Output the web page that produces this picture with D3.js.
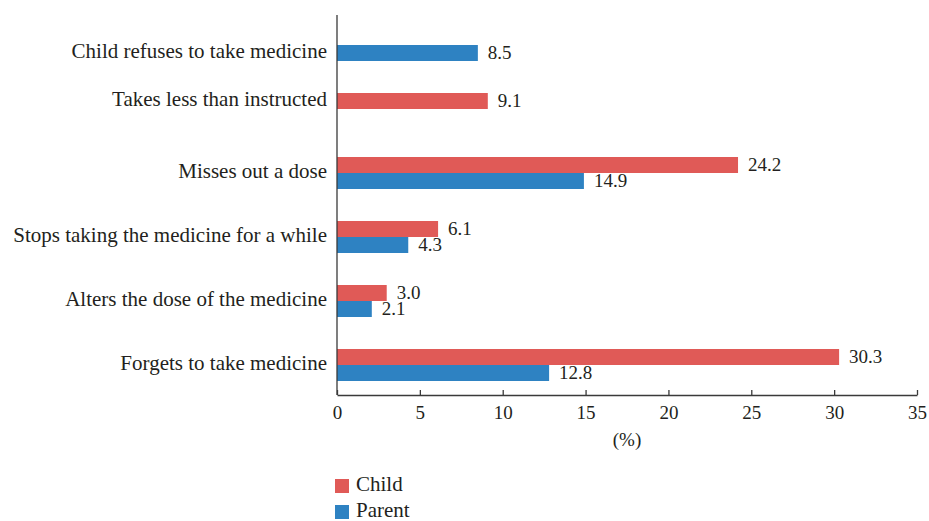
<!DOCTYPE html>
<html>
<head>
<meta charset="utf-8">
<script src="https://cdn.jsdelivr.net/npm/d3@7"></script>
<style>
  body { margin: 0; background: #fff; }
  svg text { font-family: "Liberation Serif", "DejaVu Serif", serif !important; fill: #231f20; }
</style>
</head>
<body>
<div id="chart"></div>
<script>
// Data (top to bottom), null = not asked of that group
const categories = [
  'Child refuses to take medicine',
  'Takes less than instructed',
  'Misses out a dose',
  'Stops taking the medicine for a while',
  'Alters the dose of the medicine',
  'Forgets to take medicine'
];
const childValues  = [null, 9.1, 24.2, 6.1, 3.0, 30.3];
const parentValues = [8.5, null, 14.9, 4.3, 2.1, 12.8];
const seriesNames = ['Child', 'Parent'];
const xTicks = [0, 5, 10, 15, 20, 25, 30, 35];

const colors = { Child: '#e05a57', Parent: '#2e82c2', text: '#231f20', axis: '#3a3a3a' };
const serif = '"Liberation Serif", "DejaVu Serif", serif';

const width = 929, height = 521;
const margin = { left: 337 };
const plotRight = 917;
const axisY = 395;

const svg = d3.select('#chart').append('svg')
  .attr('width', width)
  .attr('height', height);

// Scales
const x = d3.scaleLinear().domain([0, 35]).range([margin.left, plotRight]);

const y = d3.scaleBand()
  .domain(categories)
  .range([13, 397])
  .paddingInner(0.5)
  .paddingOuter(0.25);

const ySub = d3.scaleBand()
  .domain(seriesNames)
  .range([0, y.bandwidth()]);

const rows = categories.map((c, i) => ({
  cat: c,
  values: [
    { key: 'Child', value: childValues[i] },
    { key: 'Parent', value: parentValues[i] }
  ].filter(v => v.value !== null)
}));

// Bars
const groups = svg.selectAll('.group')
  .data(rows)
  .enter()
  .append('g')
  .attr('class', 'group')
  .attr('transform', d => `translate(0,${y(d.cat)})`);

groups.selectAll('rect')
  .data(d => d.values)
  .enter()
  .append('rect')
  .attr('x', x(0))
  .attr('y', d => ySub(d.key))
  .attr('width', d => x(d.value) - x(0))
  .attr('height', ySub.bandwidth())
  .attr('fill', d => colors[d.key]);

// Value labels
groups.selectAll('.val')
  .data(d => d.values)
  .enter()
  .append('text')
  .attr('class', 'val')
  .attr('x', d => x(d.value) + 10)
  .attr('y', d => ySub(d.key) + ySub.bandwidth() / 2 + 2)
  .attr('dominant-baseline', 'middle')
  .style('font-family', serif)
  .style('font-size', '19px')
  .text(d => d.value.toFixed(1));

// Category labels, centred on whichever bars exist
svg.selectAll('.cat')
  .data(rows)
  .enter()
  .append('text')
  .attr('class', 'cat')
  .attr('x', margin.left - 10)
  .attr('y', d => {
    const ys = d.values.map(v => y(d.cat) + ySub(v.key) + ySub.bandwidth() / 2);
    return d3.mean(ys);
  })
  .attr('text-anchor', 'end')
  .attr('dominant-baseline', 'middle')
  .style('font-family', serif)
  .style('font-size', '21px')
  .text(d => d.cat);

// Y axis line
svg.append('line')
  .attr('x1', x(0)).attr('x2', x(0))
  .attr('y1', 15).attr('y2', axisY)
  .attr('stroke', colors.axis)
  .attr('stroke-width', 1.3);

// X axis (ticks point up into the plot)
const xAxis = svg.append('g')
  .attr('transform', `translate(0,${axisY})`)
  .attr('font-family', serif)
  .call(d3.axisBottom(x)
    .tickValues(xTicks)
    .tickSizeInner(-5)
    .tickSizeOuter(0)
    .tickPadding(11)
  );

xAxis.selectAll('line, path')
  .attr('stroke', colors.axis)
  .attr('stroke-width', 1.3);

xAxis.selectAll('text')
  .attr('fill', colors.text)
  .style('font-family', serif)
  .style('font-size', '19px');

// Axis title
svg.append('text')
  .attr('x', (x(0) + plotRight) / 2)
  .attr('y', 446)
  .attr('text-anchor', 'middle')
  .style('font-family', serif)
  .style('font-size', '19px')
  .text('(%)');

// Legend
const legend = svg.append('g')
  .attr('transform', 'translate(335,479)');

const legendItems = legend.selectAll('g')
  .data(seriesNames)
  .enter()
  .append('g')
  .attr('transform', (d, i) => `translate(0,${i * 26})`);

legendItems.append('rect')
  .attr('width', 14)
  .attr('height', 14)
  .attr('fill', d => colors[d]);

legendItems.append('text')
  .attr('x', 21)
  .attr('y', 12)
  .style('font-family', serif)
  .style('font-size', '21px')
  .text(d => d);
</script>
</body>
</html>
